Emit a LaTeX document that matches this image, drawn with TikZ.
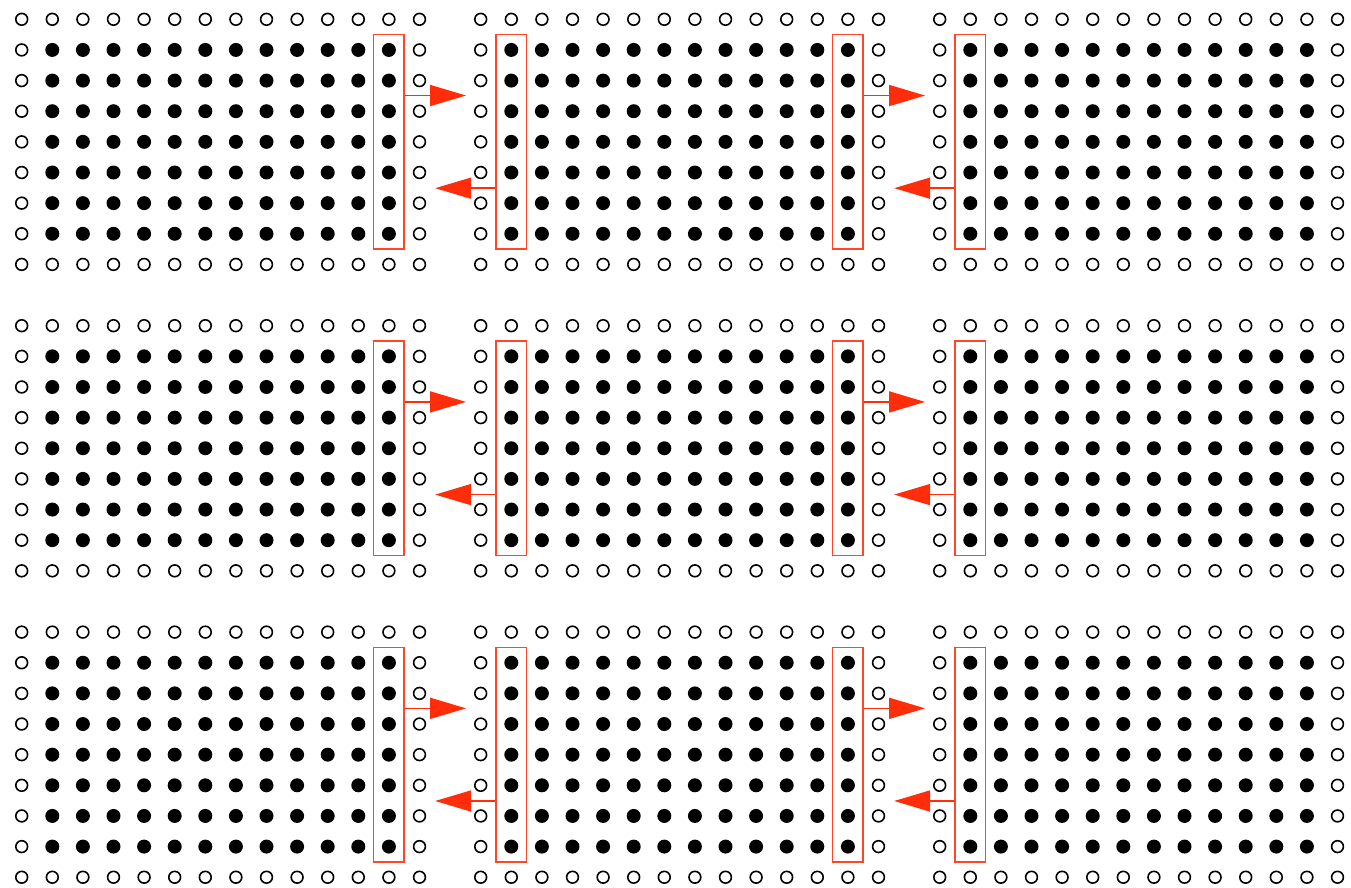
\documentclass[tikz,border=0pt]{standalone}
\usetikzlibrary{arrows.meta,calc}
\definecolor{boxred}{RGB}{255,70,40}
\definecolor{arrred}{RGB}{255,45,10}
\begin{document}
\begin{tikzpicture}[x=1pt,y=-1pt,
  emptydot/.style={draw=black,line width=1.6pt},
  fulldot/.style={fill=black},
  redbox/.style={draw=boxred,line width=1.7pt,rectangle,inner sep=0pt,
    minimum width=30.6pt,minimum height=214.5pt},
  redarrow/.style={draw=arrred,line width=1.6pt,
    -{Triangle[length=36pt,width=21pt,fill=arrred]}}]
\useasboundingbox (0,0) rectangle (1351,888);
\foreach \gx in {0,1,2}{
 \foreach \gy in {0,1,2}{
  % filled interior
  \foreach \i in {1,...,12}{
   \foreach \j in {1,...,7}{
    \pgfmathsetmacro\X{21.7+30.6*(15*\gx+\i)}
    \pgfmathsetmacro\Y{19.3+30.64*(10*\gy+\j)}
    \fill[fulldot] (\X,\Y) circle[radius=7];
   }}
  % top and bottom rows
  \foreach \i in {0,...,13}{
   \foreach \j in {0,8}{
    \pgfmathsetmacro\X{21.7+30.6*(15*\gx+\i)}
    \pgfmathsetmacro\Y{19.3+30.64*(10*\gy+\j)}
    \draw[emptydot] (\X,\Y) circle[radius=5.9];
   }}
  % left and right columns
  \foreach \i in {0,13}{
   \foreach \j in {1,...,7}{
    \pgfmathsetmacro\X{21.7+30.6*(15*\gx+\i)}
    \pgfmathsetmacro\Y{19.3+30.64*(10*\gy+\j)}
    \draw[emptydot] (\X,\Y) circle[radius=5.9];
   }}
 }}
% red boxes and arrows
\foreach \gy in {0,1,2}{
  \pgfmathsetmacro\Y{19.3+30.64*(10*\gy+4)}
  \node[redbox] (boxA\gy) at ({21.7+30.6*12},\Y) {};
  \node[redbox] (boxB\gy) at ({21.7+30.6*16},\Y) {};
  \node[redbox] (boxC\gy) at ({21.7+30.6*27},\Y) {};
  \node[redbox] (boxD\gy) at ({21.7+30.6*31},\Y) {};
  \coordinate (sA\gy) at ($(boxA\gy.north east)!2/7!(boxA\gy.south east)$);
  \coordinate (sB\gy) at ($(boxB\gy.north west)!5/7!(boxB\gy.south west)$);
  \coordinate (sC\gy) at ($(boxC\gy.north east)!2/7!(boxC\gy.south east)$);
  \coordinate (sD\gy) at ($(boxD\gy.north west)!5/7!(boxD\gy.south west)$);
  \coordinate (tA\gy) at ($(sA\gy)+(61,0)$);
  \coordinate (tB\gy) at ($(sB\gy)+(-60,0)$);
  \coordinate (tC\gy) at ($(sC\gy)+(61,0)$);
  \coordinate (tD\gy) at ($(sD\gy)+(-60,0)$);
  \draw[redarrow] (sA\gy) -- (tA\gy);
  \draw[redarrow] (sB\gy) -- (tB\gy);
  \draw[redarrow] (sC\gy) -- (tC\gy);
  \draw[redarrow] (sD\gy) -- (tD\gy);
}
\end{tikzpicture}
\end{document}
